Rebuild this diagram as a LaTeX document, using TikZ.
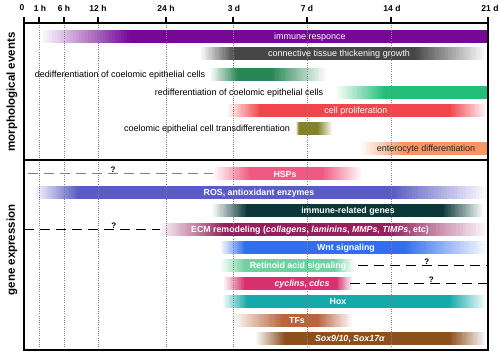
\documentclass[tikz,border=0pt]{standalone}
\usepackage{fontspec}
\setmainfont{Liberation Sans}
\usepackage{xcolor}

\definecolor{immunecol}{RGB}{118,8,150}
\definecolor{conncol}{RGB}{70,70,70}
\definecolor{dedifcol}{RGB}{40,135,85}
\definecolor{redifcol}{RGB}{35,190,120}
\definecolor{prolcol}{RGB}{240,70,75}
\definecolor{transcol}{RGB}{130,130,40}
\definecolor{enterocol}{RGB}{245,150,100}
\definecolor{hspcol}{RGB}{240,90,130}
\definecolor{roscol}{RGB}{90,90,200}
\definecolor{imgenecol}{RGB}{10,55,55}
\definecolor{ecmcol}{RGB}{150,30,90}
\definecolor{wntcol}{RGB}{50,110,235}
\definecolor{retcol}{RGB}{110,210,160}
\definecolor{cyccol}{RGB}{215,50,110}
\definecolor{hoxcol}{RGB}{20,170,170}
\definecolor{tfcol}{RGB}{185,100,60}
\definecolor{soxcol}{RGB}{140,80,30}

% fade in slices: y, from, to, colour
\newcommand{\fadein}[4]{%
\foreach \i in {0,...,29}{%
  \pgfmathsetmacro{\sa}{#2+(#3-#2)*\i/30}%
  \pgfmathsetmacro{\sb}{#2+(#3-#2)*(\i+1)/30+0.3}%
  \pgfmathtruncatemacro{\pc}{100*(\i+0.5)/30}%
  \fill[#4!\pc!white] (\sa,#1-6.5) rectangle (\sb,#1+6.5);}}
% fade out slices: y, from, to, colour
\newcommand{\fadeout}[4]{%
\foreach \i in {0,...,29}{%
  \pgfmathsetmacro{\sa}{#2+(#3-#2)*\i/30-0.3}%
  \pgfmathsetmacro{\sb}{#2+(#3-#2)*(\i+1)/30}%
  \pgfmathtruncatemacro{\pc}{100-100*(\i+0.5)/30}%
  \fill[#4!\pc!white] (\sa,#1-6.5) rectangle (\sb,#1+6.5);}}
% bar: y, fade-in start, full start, full end, fade-out end, colour
\newcommand{\expbar}[6]{%
\fadein{#1}{#2}{#3}{#6}
\fill[#6] (#3,#1-6.5) rectangle (#4,#1+6.5);
\fadeout{#1}{#4}{#5}{#6}}

\begin{document}
\begin{tikzpicture}[x=1pt,y=-1pt,
  timelbl/.style={font=\fontsize{8.5}{10}\selectfont\bfseries, inner sep=0pt},
  sidelbl/.style={font=\fontsize{11.5}{13}\selectfont\bfseries, rotate=90, inner sep=0pt},
  bartext/.style={font=\fontsize{9}{10}\selectfont, text=white, inner sep=0pt},
  blacktext/.style={bartext, text=black},
  genetext/.style={bartext, font=\fontsize{8.8}{10}\selectfont\bfseries},
  gridline/.style={gray, line width=0.6pt, dash pattern=on 1pt off 1.2pt},
  qline/.style={line width=1pt, dash pattern=on 10pt off 6pt},
  qmark/.style={font=\fontsize{8}{9}\selectfont\bfseries, inner sep=1pt}]
\useasboundingbox (0,0) rectangle (499,358);

% morphological events
\expbar{37}{40}{130}{487}{489}{immunecol}
\expbar{54}{200}{235}{415}{487}{conncol}
\expbar{75}{210}{238}{272}{327}{dedifcol}
\expbar{93}{335}{385}{487}{489}{redifcol}
\expbar{111}{227}{260}{450}{488}{prolcol}
\expbar{129}{296}{299}{318}{333}{transcol}
\expbar{149}{360}{403}{487}{489}{enterocol}

% gene expression
\expbar{174}{213}{250}{323}{363}{hspcol}
\expbar{193}{33}{78}{393}{489}{roscol}
\expbar{211}{212}{247}{443}{484}{imgenecol}
\expbar{230}{158}{225}{390}{490}{ecmcol}
\expbar{248}{220}{245}{405}{490}{wntcol}
\expbar{266}{220}{245}{335}{355}{retcol}
\expbar{284}{223}{245}{337}{353}{cyccol}
\expbar{302}{222}{247}{450}{487}{hoxcol}
\expbar{321}{232}{283}{318}{353}{tfcol}
\expbar{339}{255}{285}{450}{487}{soxcol}

\draw[gridline] (39,23) -- (39,350);
\draw[gridline] (64,23) -- (64,350);
\draw[gridline] (98,23) -- (98,350);
\draw[gridline] (166,23) -- (166,350);
\draw[gridline] (233,23) -- (233,350);
\draw[gridline] (307,23) -- (307,350);
\draw[gridline] (391,23) -- (391,350);

% frame and ticks
\draw[line width=1.6pt] (24,17) -- (24,350) -- (488,350) -- (488,17);
\draw[line width=1.6pt] (24,23) -- (488,23);
\draw[line width=1.6pt] (24,160) -- (488,160);
\draw[line width=1.2pt] (39,17) -- (39,23);
\draw[line width=1.2pt] (64,17) -- (64,23);
\draw[line width=1.2pt] (98,17) -- (98,23);
\draw[line width=1.2pt] (166,17) -- (166,23);
\draw[line width=1.2pt] (233,17) -- (233,23);
\draw[line width=1.2pt] (307,17) -- (307,23);
\draw[line width=1.2pt] (391,17) -- (391,23);

\node[timelbl] (t0) at (22,8) {0};
\node[timelbl] (t1h) at (40,8) {1 h};
\node[timelbl] (t6h) at (64,8) {6 h};
\node[timelbl] (t12h) at (98,8) {12 h};
\node[timelbl] (t24h) at (166,8) {24 h};
\node[timelbl] (t3d) at (234,8) {3 d};
\node[timelbl] (t7d) at (307,8) {7 d};
\node[timelbl] (t14d) at (392,8) {14 d};
\node[timelbl] (t21d) at (490,8) {21 d};

\node[sidelbl] (morph) at (12,92) {morphological events};
\node[sidelbl] (gene) at (12,250) {gene expression};

\node[bartext] (immune) at (310,37) {immune responce};
\node[bartext] (conn) at (339,54) {connective tissue thickening growth};
\node[blacktext] (dedif) at (120,75) {dedifferentiation of coelomic epithelial cells};
\node[blacktext] (redif) at (239,93) {redifferentiation of coelomic epithelial cells};
\node[bartext] (prol) at (356,111) {cell proliferation};
\node[blacktext] (trans) at (207,129) {coelomic epithelial cell transdifferentiation};
\node[blacktext, text=black!85] (entero) at (426,149) {enterocyte differentiation};

\node[genetext] (hsp) at (285,174) {HSPs};
\node[genetext] (ros) at (259,193) {ROS, antioxidant enzymes};
\node[genetext] (imgene) at (348,211) {immune-related genes};
\node[genetext] (ecm) at (310,230) {ECM remodeling (\textit{collagens}, \textit{laminins}, \textit{MMPs}, \textit{TIMPs}, etc)};
\node[genetext] (wnt) at (346,248) {Wnt signaling};
\node[genetext] (ret) at (298,266) {Retinoid acid signaling};
\node[genetext] (cyc) at (302,284) {\textit{cyclins}, \textit{cdcs}};
\node[genetext] (hox) at (338,302) {Hox};
\node[genetext] (tf) at (297,321) {TFs};
\node[genetext] (sox) at (350,339) {\textit{Sox9/10}, \textit{Sox17α}};

% unknown onsets
\coordinate (hspa) at (28,174); \coordinate (hspb) at (213,174);
\coordinate (ecma) at (24,230); \coordinate (ecmb) at (160,230);
\coordinate (reta) at (358,266); \coordinate (retb) at (488,266);
\coordinate (cyca) at (350,284); \coordinate (cycb) at (488,284);
\draw[qline, gray] (hspa) -- (hspb) node[qmark, black, pos=0.46, above] (hspq) {?};
\draw[qline] (ecma) -- (ecmb) node[qmark, pos=0.66, above] (ecmq) {?};
\draw[qline] (reta) -- (retb) node[qmark, pos=0.53, above] (retq) {?};
\draw[qline] (cyca) -- (cycb) node[qmark, pos=0.59, above] (cycq) {?};

\end{tikzpicture}
\end{document}
